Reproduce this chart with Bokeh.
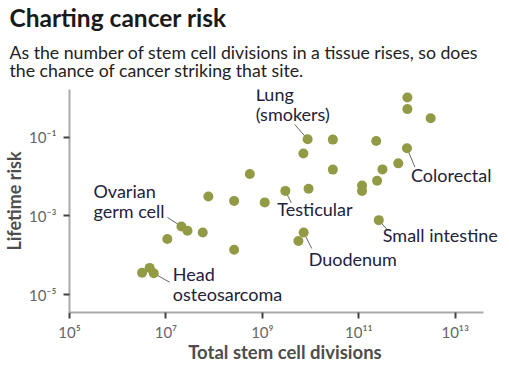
from bokeh.plotting import figure
from bokeh.models import (Title, Label, Range1d, FixedTicker, CustomJSTickFormatter,
                          ColumnDataSource)
from bokeh.embed import file_html
from bokeh.resources import INLINE

# ---- data ----
divisions = [1.02e12, 1.02e12, 3.1e12, 8.7e9, 2.9e10, 2.3e11, 7.1e9, 1.0e12, 6.6e11,
             3.1e11, 2.9e10, 2.4e11, 1.17e11, 1.17e11, 5.5e8, 9.1e9, 3.0e9, 7.6e7,
             2.6e8, 1.12e9, 2.1e7, 2.8e7, 5.8e7, 1.07e7, 2.6e8, 2.6e11, 7.2e9, 5.6e9,
             3.2e6, 4.6e6, 5.6e6]
risk = [1.0, 0.51, 0.30, 0.0875, 0.086, 0.079, 0.038, 0.052, 0.0215,
        0.0151, 0.0149, 0.0078, 0.0059, 0.0043, 0.0115, 0.0049, 0.0043, 0.0031,
        0.0024, 0.0022, 5.4e-4, 4.2e-4, 3.8e-4, 2.6e-4, 1.38e-4, 7.8e-4, 3.8e-4, 2.3e-4,
        3.6e-5, 4.8e-5, 3.5e-5]

x_ticks = [1e5, 1e7, 1e9, 1e11, 1e13]
y_ticks = [1e-5, 1e-3, 1e-1]

# annotations: label text, index of the point it names
ann_text = ["Lung\n(smokers)", "Colorectal", "Ovarian\ngerm cell", "Testicular",
            "Small intestine", "Duodenum", "Head\nosteosarcoma"]
ann_point = [3, 7, 20, 16, 25, 26, 30]
# text offset (px, right / down, to text box top-left) and leader end offset (px)
ann_text_off = [(-52, -56), (4, 16), (-88, -46), (-8, 7), (4, 4), (5, 16), (19, -10)]
ann_line_off = [(-13, -15), (8, 19), (-14, -9), (6, 12), (8, 9), (8, 16), (16, 9)]

# ---- figure ----
X_LO, X_AXIS_HI, X_HI = 1e5, 10 ** 13.59, 10 ** 13.94
Y_LO, Y_HI = 10 ** -5.45, 10 ** 0.205
FW, FH = 431, 223
px_per_dec_x = FW / 8.94
px_per_dec_y = FH / 5.655

p = figure(width=493, height=354, frame_width=FW, frame_height=FH,
           x_axis_type="log", y_axis_type="log",
           x_range=Range1d(X_LO, X_HI), y_range=Range1d(Y_LO, Y_HI),
           output_backend="svg", toolbar_location=None,
           min_border_left=62, min_border_right=0, min_border_bottom=0,
           min_border_top=0)
p.outline_line_color = None
p.grid.grid_line_color = None
p.background_fill_color = "white"
p.border_fill_color = "white"

fmt = CustomJSTickFormatter(code="""
const e = Math.round(Math.log10(tick));
const m = {"-":"\\u207b","0":"\\u2070","1":"\\u00b9","2":"\\u00b2","3":"\\u00b3",
           "4":"\\u2074","5":"\\u2075","6":"\\u2076","7":"\\u2077","8":"\\u2078","9":"\\u2079"};
return "10" + String(e).split("").map(c => m[c]).join("");
""")

for ax, ticks in ((p.xaxis[0], x_ticks), (p.yaxis[0], y_ticks)):
    ax.ticker = FixedTicker(ticks=ticks)
    ax.formatter = fmt
    ax.minor_tick_line_color = None
    ax.major_tick_in = 0
    ax.major_tick_out = 6
    ax.major_tick_line_color = "#444444"
    ax.major_tick_line_width = 2
    ax.axis_line_color = "#aaaaaa"
    ax.axis_line_width = 2
    ax.major_label_text_font = "Lato"
    ax.major_label_text_font_size = "15px"
    ax.major_label_text_color = "#666666"
    ax.axis_label_text_font = "Lato"
    ax.axis_label_text_font_style = "bold"
    ax.axis_label_text_color = "#4d4d4d"

p.xaxis.axis_label_text_font_size = "18.5px"
p.yaxis.axis_label_text_font_size = "18px"
p.xaxis.bounds = (X_LO, X_AXIS_HI)
p.xaxis.axis_label = "Total stem cell divisions"
p.yaxis.axis_label = "Lifetime risk"
p.xaxis.major_label_standoff = 4
p.yaxis.major_label_standoff = 7
p.xaxis.axis_label_standoff = -3
p.yaxis.axis_label_standoff = 1

# leader lines
x0s, y0s, x1s, y1s = [], [], [], []
for i, (dx, dy) in zip(ann_point, ann_line_off):
    x0s.append(divisions[i]); y0s.append(risk[i])
    x1s.append(divisions[i] * 10 ** (dx / px_per_dec_x))
    y1s.append(risk[i] * 10 ** (-dy / px_per_dec_y))
p.segment(x0s, y0s, x1s, y1s, line_color="#666666", line_width=1)

src = ColumnDataSource(dict(x=divisions, y=risk))
p.scatter("x", "y", source=src, size=10, fill_color="#939a45", line_color=None)

for t, i, (dx, dy) in zip(ann_text, ann_point, ann_text_off):
    p.add_layout(Label(x=divisions[i], y=risk[i], x_offset=dx, y_offset=-dy, text=t,
                       text_font="Lato", text_font_size="18px", text_color="#22223a",
                       text_baseline="top", text_align="left", text_line_height=0.88))

# titles (added bottom-up)
p.add_layout(Title(text="As the number of stem cell divisions in a tissue rises, so does\n"
                        "the chance of cancer striking that site.",
                   text_font="Lato", text_font_size="17.7px", text_font_style="normal",
                   text_color="#222222", align="left", offset=-60, standoff=16,
                   text_line_height=0.9), "above")
p.add_layout(Title(text="Charting cancer risk", text_font="Lato", text_font_size="24.5px",
                   text_font_style="bold", text_color="#1a1a1a", align="left",
                   offset=-60, standoff=0), "above")

open("out.html", "w").write(file_html(p, INLINE))
